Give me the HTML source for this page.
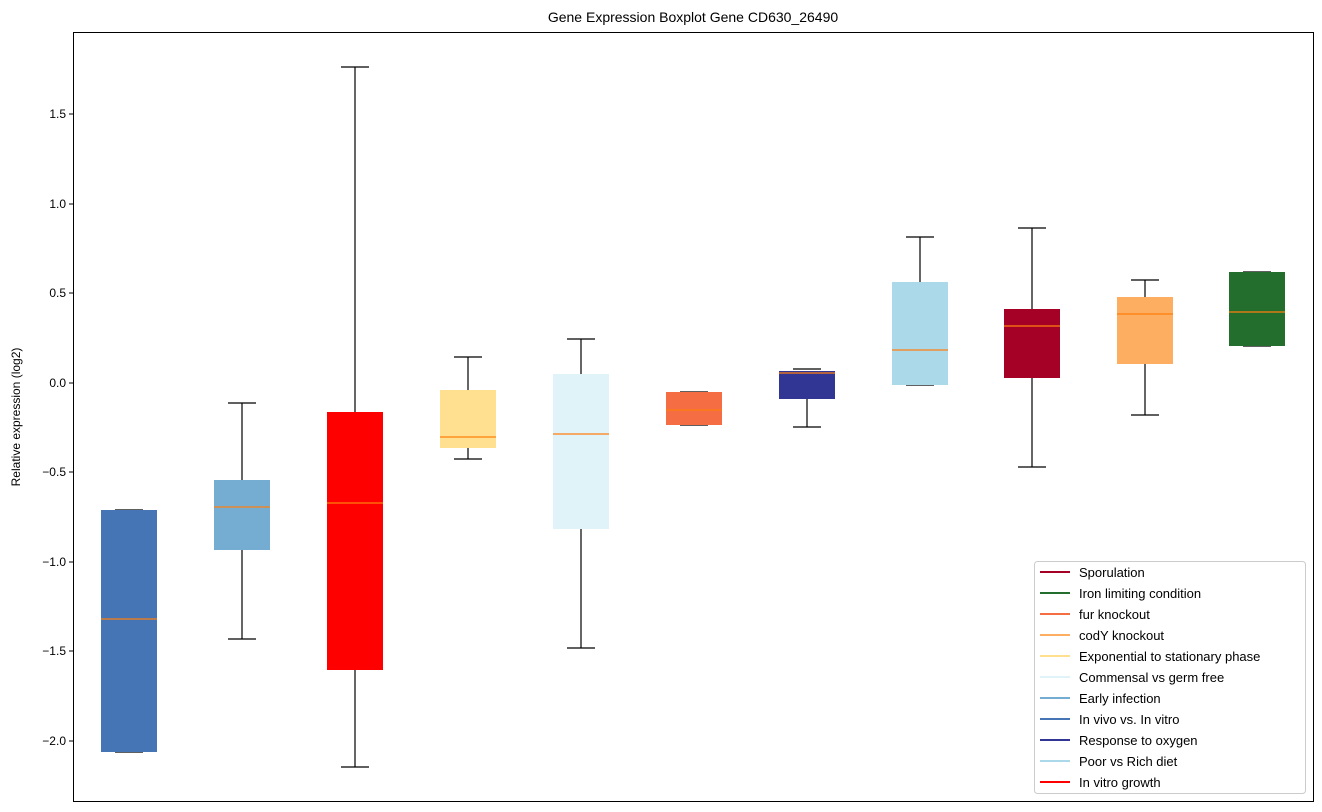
<!DOCTYPE html>
<html><head><meta charset="utf-8"><style>body{margin:0;background:#fff}svg{display:block;font-family:"Liberation Sans","DejaVu Sans",sans-serif}</style></head><body>
<svg width="1322" height="812" xmlns="http://www.w3.org/2000/svg">
<rect width="1322" height="812" fill="#fff"/>
<text x="693" y="22" font-size="14" text-anchor="middle">Gene Expression Boxplot Gene CD630_26490</text>
<text transform="translate(20,417) rotate(-90)" font-size="12" text-anchor="middle">Relative expression (log2)</text>
<g font-size="12" text-anchor="end">
<line x1="69" x2="73" y1="114" y2="114" stroke="#000"/><text x="66" y="118">1.5</text>
<line x1="69" x2="73" y1="204" y2="204" stroke="#000"/><text x="66" y="208">1.0</text>
<line x1="69" x2="73" y1="293" y2="293" stroke="#000"/><text x="66" y="297">0.5</text>
<line x1="69" x2="73" y1="383" y2="383" stroke="#000"/><text x="66" y="387">0.0</text>
<line x1="69" x2="73" y1="472" y2="472" stroke="#000"/><text x="66" y="476">−0.5</text>
<line x1="69" x2="73" y1="562" y2="562" stroke="#000"/><text x="66" y="566">−1.0</text>
<line x1="69" x2="73" y1="651" y2="651" stroke="#000"/><text x="66" y="655">−1.5</text>
<line x1="69" x2="73" y1="741" y2="741" stroke="#000"/><text x="66" y="745">−2.0</text>
</g>
<g stroke="#000" stroke-width="1.2">
<line x1="242" x2="242" y1="403" y2="480"/><line x1="242" x2="242" y1="550" y2="639"/><line x1="228" x2="256" y1="403" y2="403"/><line x1="228" x2="256" y1="639" y2="639"/>
<line x1="355" x2="355" y1="67" y2="412"/><line x1="355" x2="355" y1="670" y2="767"/><line x1="341" x2="369" y1="67" y2="67"/><line x1="341" x2="369" y1="767" y2="767"/>
<line x1="468" x2="468" y1="357" y2="390"/><line x1="468" x2="468" y1="448" y2="459"/><line x1="454" x2="482" y1="357" y2="357"/><line x1="454" x2="482" y1="459" y2="459"/>
<line x1="581" x2="581" y1="339" y2="374"/><line x1="581" x2="581" y1="529" y2="648"/><line x1="567" x2="595" y1="339" y2="339"/><line x1="567" x2="595" y1="648" y2="648"/>
<line x1="807" x2="807" y1="399" y2="427"/><line x1="793" x2="821" y1="369" y2="369"/><line x1="793" x2="821" y1="427" y2="427"/>
<line x1="920" x2="920" y1="237" y2="282"/><line x1="906" x2="934" y1="237" y2="237"/><line x1="906" x2="934" y1="385" y2="385"/>
<line x1="1032" x2="1032" y1="228" y2="309"/><line x1="1032" x2="1032" y1="378" y2="467"/><line x1="1018" x2="1046" y1="228" y2="228"/><line x1="1018" x2="1046" y1="467" y2="467"/>
<line x1="1145" x2="1145" y1="280" y2="297"/><line x1="1145" x2="1145" y1="364" y2="415"/><line x1="1131" x2="1159" y1="280" y2="280"/><line x1="1131" x2="1159" y1="415" y2="415"/>
<line x1="115" x2="143" y1="510" y2="510"/><line x1="115" x2="143" y1="752" y2="752"/>
<line x1="680" x2="708" y1="392" y2="392"/><line x1="680" x2="708" y1="425" y2="425"/>
<line x1="1243" x2="1271" y1="272" y2="272"/><line x1="1243" x2="1271" y1="346" y2="346"/>
</g>
<rect x="101" y="510" width="56" height="242" fill="#4575b4"/>
<rect x="214" y="480" width="56" height="70" fill="#74add1"/>
<rect x="327" y="412" width="56" height="258" fill="#ff0000"/>
<rect x="440" y="390" width="56" height="58" fill="#fee090"/>
<rect x="553" y="374" width="56" height="155" fill="#e0f3f8"/>
<rect x="666" y="392" width="56" height="33" fill="#f46d43"/>
<rect x="779" y="371" width="56" height="28" fill="#313695"/>
<rect x="892" y="282" width="56" height="103" fill="#abd9e9"/>
<rect x="1004" y="309" width="56" height="69" fill="#a50026"/>
<rect x="1117" y="297" width="56" height="67" fill="#fdae61"/>
<rect x="1229" y="272" width="56" height="74" fill="#236e2c"/>
<g stroke="#ff7f0e" stroke-width="1.2">
<line x1="101" x2="157" y1="619" y2="619"/><line x1="214" x2="270" y1="507" y2="507"/><line x1="327" x2="383" y1="503" y2="503"/><line x1="440" x2="496" y1="437" y2="437"/><line x1="553" x2="609" y1="434" y2="434"/><line x1="666" x2="722" y1="410" y2="410"/><line x1="779" x2="835" y1="373" y2="373"/><line x1="892" x2="948" y1="350" y2="350"/><line x1="1004" x2="1060" y1="326" y2="326"/><line x1="1117" x2="1173" y1="314" y2="314"/><line x1="1229" x2="1285" y1="312" y2="312"/>
</g>
<rect x="73.5" y="32.5" width="1240" height="769" fill="none" stroke="#000"/>
<rect x="1034.5" y="561.5" width="271" height="232" rx="3" fill="#fff" stroke="#ccc"/>
<g font-size="13" stroke-width="2">
<line x1="1040" x2="1070" y1="572" y2="572" stroke="#a50026"/><text x="1079" y="577">Sporulation</text>
<line x1="1040" x2="1070" y1="593" y2="593" stroke="#236e2c"/><text x="1079" y="598">Iron limiting condition</text>
<line x1="1040" x2="1070" y1="614" y2="614" stroke="#f46d43"/><text x="1079" y="619">fur knockout</text>
<line x1="1040" x2="1070" y1="635" y2="635" stroke="#fdae61"/><text x="1079" y="640">codY knockout</text>
<line x1="1040" x2="1070" y1="656" y2="656" stroke="#fee090"/><text x="1079" y="661">Exponential to stationary phase</text>
<line x1="1040" x2="1070" y1="677" y2="677" stroke="#e0f3f8"/><text x="1079" y="682">Commensal vs germ free</text>
<line x1="1040" x2="1070" y1="698" y2="698" stroke="#74add1"/><text x="1079" y="703">Early infection</text>
<line x1="1040" x2="1070" y1="719" y2="719" stroke="#4575b4"/><text x="1079" y="724">In vivo vs. In vitro</text>
<line x1="1040" x2="1070" y1="740" y2="740" stroke="#313695"/><text x="1079" y="745">Response to oxygen</text>
<line x1="1040" x2="1070" y1="761" y2="761" stroke="#abd9e9"/><text x="1079" y="766">Poor vs Rich diet</text>
<line x1="1040" x2="1070" y1="782" y2="782" stroke="#ff0000"/><text x="1079" y="787">In vitro growth</text>
</g>
</svg>
</body></html>
